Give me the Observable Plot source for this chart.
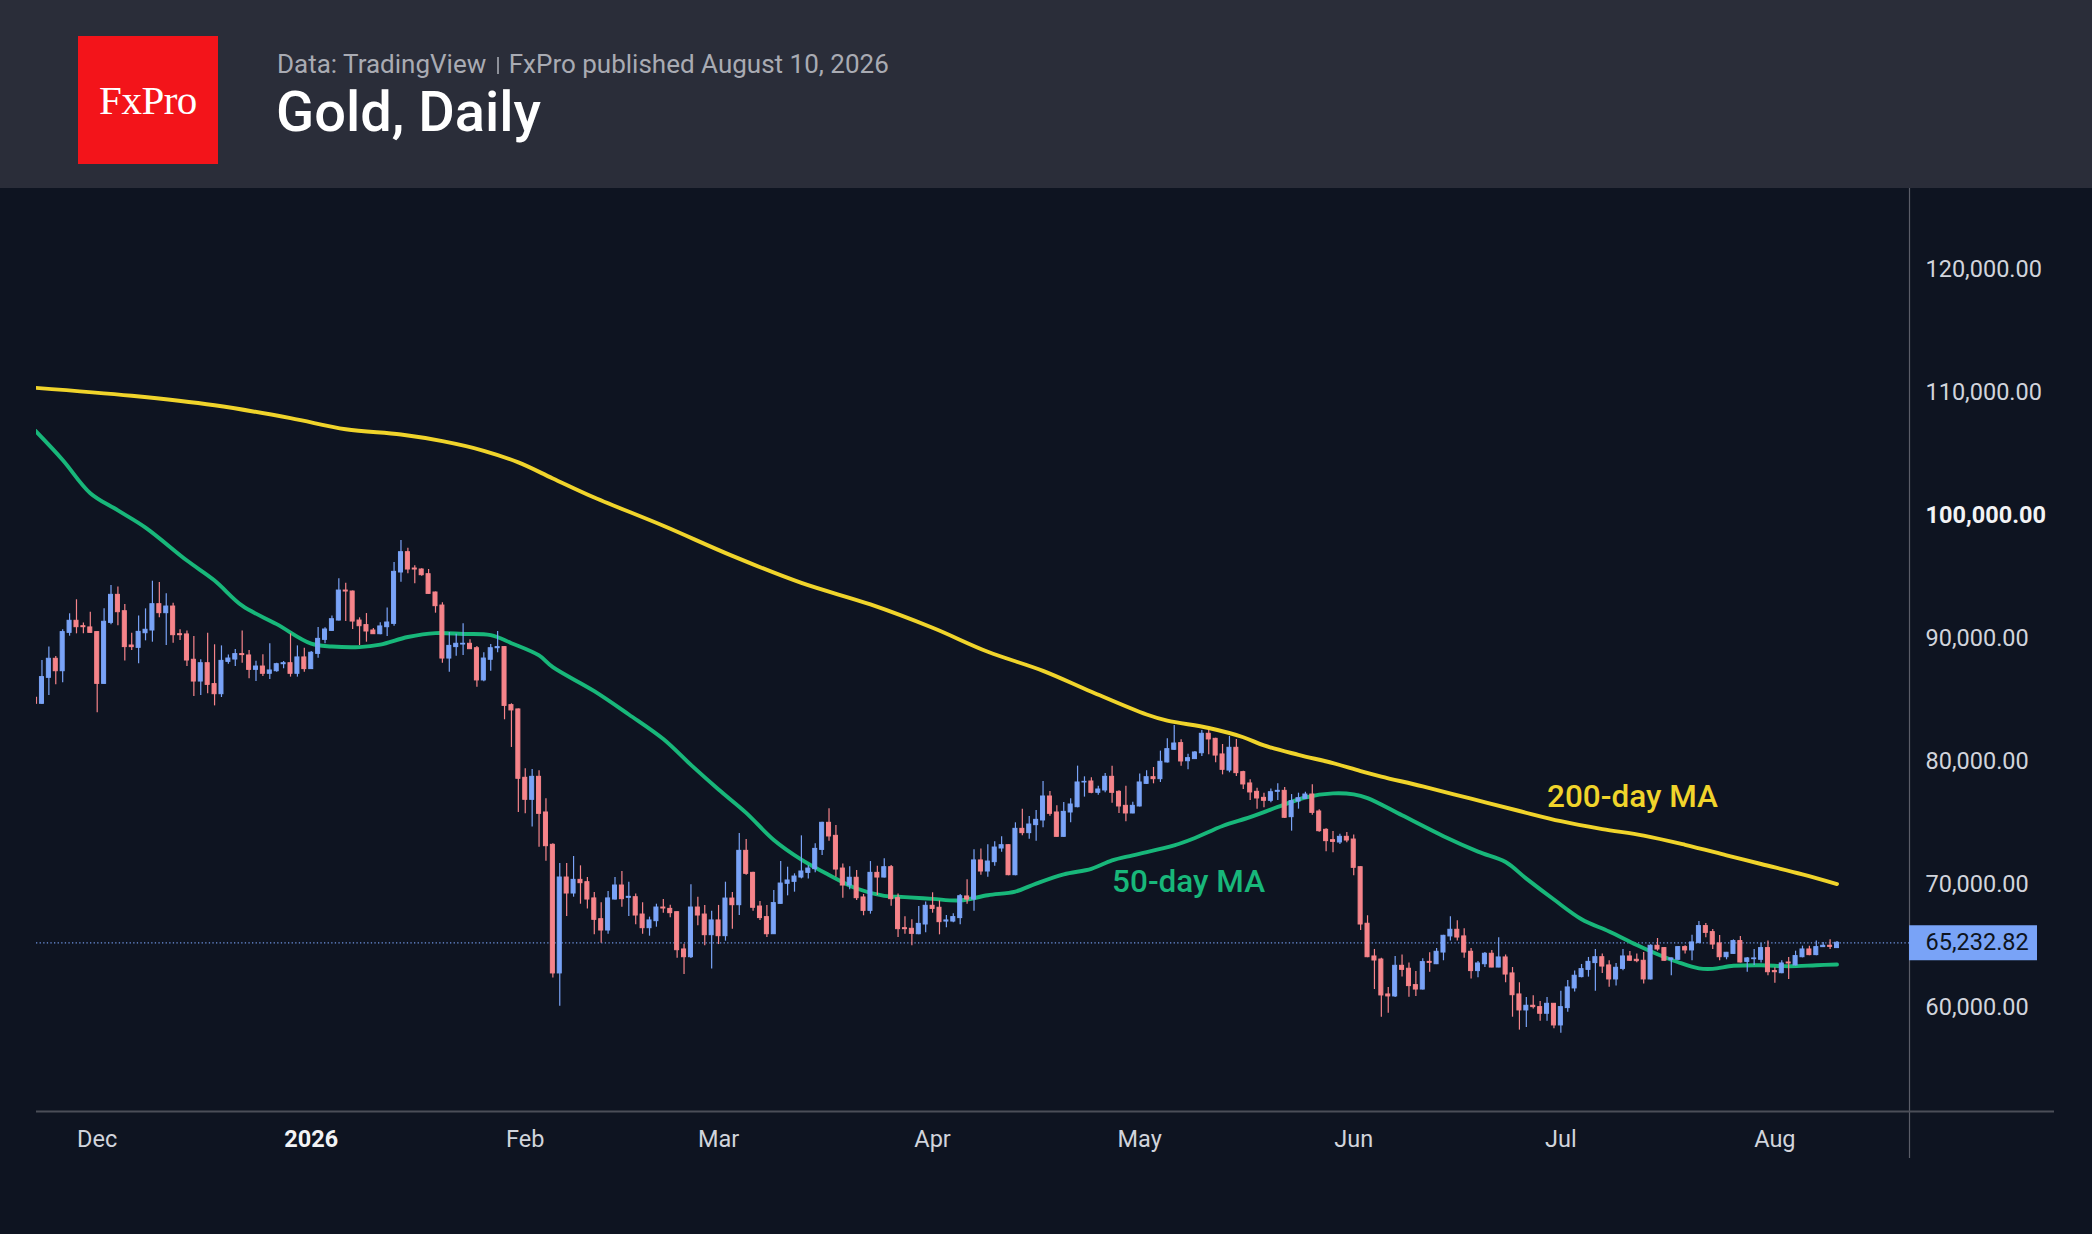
<!DOCTYPE html>
<html>
<head>
<meta charset="utf-8">
<script src="https://cdn.jsdelivr.net/npm/d3@7"></script>
<script src="https://cdn.jsdelivr.net/npm/@observablehq/plot@0.6"></script>
<style>
  html, body { margin: 0; padding: 0; background: #0e1421; }
  #wrap { width: 2092px; height: 1234px; position: relative; overflow: hidden; background: #0e1421; }
  #header { position: absolute; left: 0; top: 0; width: 2092px; height: 188px; background: #2a2d39; }
  #logo { position: absolute; left: 78px; top: 36px; width: 140px; height: 128px; background: #f3141a;
          display: flex; align-items: center; justify-content: center; color: #ffffff;
          font-family: "Liberation Serif", "DejaVu Serif", serif; font-size: 41px; letter-spacing: -0.5px; }
  #source { position: absolute; left: 277px; top: 51px; font-family: Roboto, "Noto Sans", sans-serif;
            font-size: 26px; line-height: 26px; color: #a9abb3; white-space: nowrap; }
  #source .sep { display: inline-block; width: 1.5px; height: 17px; background: #8d9099; margin: 0 10px 0 11px; vertical-align: -1px; }
  #title { position: absolute; left: 276px; top: 84px; font-family: Roboto, "Noto Sans", sans-serif;
           font-size: 56px; line-height: 56px; font-weight: 500; color: #ffffff; white-space: nowrap; }
  #chart { position: absolute; left: 0; top: 188px; }
</style>
</head>
<body>
<div id="wrap">
  <div id="header">
    <div id="logo">FxPro</div>
    <div id="source">Data: TradingView<span class="sep"></span>FxPro published August 10, 2026</div>
    <div id="title">Gold, Daily</div>
  </div>
  <div id="chart"></div>
</div>
<script>
// ---------------- DATA ----------------
const candleStart = "2025-11-22"; // first daily candle, one candle per calendar day
const opens = [85160,84670,86780,88330,87320,90440,91420,90980,90880,90500,86290,91250,93530,92200,89410,89220,90410,90630,92770,92040,
92580,90330,90310,88250,86480,87970,86270,85450,88080,88270,88710,88600,87430,87700,87110,87320,87890,87970,87110,88440,
87490,88730,89870,90600,91440,93880,93800,91440,91070,90630,90330,90900,91170,95350,97000,95670,95590,95210,93720,92660,
88350,89280,89490,89550,89190,86570,88250,89190,89280,84560,84210,78650,76860,78730,75830,73200,62740,70540,69240,70350,
70160,68840,67150,66230,68750,69890,68890,68940,67530,66420,66990,68100,67990,67720,64690,64060,68100,67530,65850,67050,
65770,68830,68290,72710,70920,68180,67320,65930,68400,70030,70190,70540,70920,71220,72790,74990,73930,71270,69890,70520,
68920,67830,70920,70540,71380,68860,66420,66370,65930,66720,68240,68080,66960,66960,67240,69000,68750,71930,71030,71790,
72900,73170,70730,74500,74150,74800,75180,77130,75830,73850,75830,76260,78270,78350,77430,77620,78730,77510,76370,75750,
76320,78160,78700,78540,79900,80930,81470,80000,80170,80650,82230,81820,80550,79240,81090,79110,78190,77510,77020,76780,
77510,77590,75450,76720,76940,77290,75910,74420,73580,73390,73850,73630,71380,66780,64120,63870,61030,60870,63360,63120,
61790,61430,63680,63490,64440,65750,66290,65750,64500,62930,63490,64340,63220,64040,62740,61030,59730,60110,60000,59460,
60270,58510,59920,61520,62440,63030,63580,64060,63390,62250,63110,64120,63850,63770,62250,64990,64800,63850,63850,64880,
64610,65200,66590,66100,65180,64060,64330,65370,63680,63900,63850,64800,62930,62760,63630,63390,64060,64690,64230,64880,
64990,64800];
const highs = [85210,88190,89280,88520,90690,91990,93130,91250,92120,90550,92390,94290,94160,92750,90410,91820,92390,94640,94540,93610,
92850,90690,90600,90140,88250,90410,89470,89380,88630,89090,90600,89000,88140,88650,89550,87970,88110,90360,89380,89190,
88920,90880,90850,91820,94830,94480,93850,91660,92010,90790,91260,92470,96160,97950,97330,95890,95650,95590,93760,92880,
90470,90330,91170,89870,89330,88820,89490,90550,89320,84670,84250,79380,79330,79220,76940,73280,71680,71680,72250,71490,
70540,69320,68480,69400,70540,71030,70160,69210,68480,67320,68370,68750,68290,67760,65120,69950,68940,68270,67800,68270,
70160,69320,74120,73630,70960,68590,68270,69490,71840,71380,70840,73930,71490,73280,75030,76130,74770,71650,71410,71110,
69160,71840,71460,72060,71520,69210,67340,67100,68180,68540,69300,68640,67450,67590,69160,70350,72790,72870,73200,73440,
73850,73210,74990,76100,75500,75990,78350,77540,76370,76640,76940,79600,78730,78650,77970,79000,79600,77590,77970,76670,
78970,79220,79490,80820,81820,82900,81740,80570,80790,82500,82500,81870,81360,82010,81770,79190,78490,77810,77400,77750,
78160,77860,77290,77400,77480,78080,76050,74500,74280,74070,74200,73990,71420,67430,64690,63980,61600,64120,64230,63580,
62900,63930,64420,64770,65840,67340,67020,66370,64770,63710,64440,64610,65640,64230,63220,61980,60780,60920,60460,60780,
60300,61300,62170,62930,63470,64040,64690,64330,63770,63550,64690,64520,64330,64440,65070,65580,64850,63990,64910,64990,
65850,66960,66800,66310,65830,64450,65470,65740,64040,64690,65200,65370,63200,63770,64040,64550,64960,64960,65370,65260,
65470,65340];
const lows = [84620,84620,85340,86210,86380,90170,90360,90360,90410,83940,86250,91090,91010,88160,89000,87920,89790,89680,91660,89410,
89600,89820,87700,85260,85340,85480,84500,85180,87890,87700,87970,86700,86480,86890,86650,87240,87510,86840,86840,87240,
87450,88380,89550,90560,91400,91360,90710,89410,89680,90300,90280,90140,90980,94560,95240,94430,95050,93580,92040,87970,
87240,88540,88600,89080,86020,86460,87320,88820,83370,81120,75830,75720,74640,73010,71870,62360,60080,67370,68940,68370,
67990,65880,65200,65930,68720,68130,67370,66690,65930,65770,66500,67640,67260,63980,62650,63960,66610,64990,63110,65090,
65360,66340,67450,70730,67800,67050,65660,65900,68360,69050,69350,70430,70430,70920,72330,73500,70570,68860,69540,68670,
67430,67560,69080,70500,68210,65660,65930,64990,65880,66040,67640,65880,66450,66860,66690,68370,67800,70730,70570,71460,
72600,70680,70680,73930,73660,73500,74580,75530,73810,73820,74990,76210,77080,77350,77240,77430,76590,75750,75070,75720,
76280,78110,78160,78270,79860,80870,79600,79300,80130,80380,80520,79870,78890,79060,78760,77700,76810,76100,76210,76620,
76810,75340,74310,76100,76890,75610,74230,72630,72550,73230,73360,70680,66230,64020,61430,59180,59510,60780,62440,60810,
60870,61400,62840,63460,63770,65370,65370,63980,62280,62380,63220,63200,63200,61980,59180,58130,58340,59840,58860,58860,
58240,57880,59590,61220,62380,62440,61300,62740,61620,61710,62950,63740,63600,61890,62210,64550,63740,62550,63810,64330,
63770,65170,65640,64690,63770,63850,64300,63580,62840,63390,63580,62550,61950,62710,62250,63350,64010,64170,64170,64840,
64690,64760];
const closes = [84670,86840,88330,87320,90500,91420,90900,90900,90440,86290,91340,93530,92120,89280,89280,90520,90690,92770,92040,92580,
90250,90250,88190,86480,87970,86210,85450,88160,88350,88710,88630,87430,87700,87110,87380,87890,87970,87110,88440,87490,
88820,89950,90710,91550,93880,93800,91360,90980,90550,90330,90960,91280,95400,97000,95590,95590,95130,93610,92610,88350,
89380,89550,89550,89110,86570,88350,89190,89280,84500,84130,78570,76860,78730,75720,73090,62740,70540,69240,70350,70080,
68750,67100,66230,68840,69890,68780,68970,67450,66420,67050,68100,68020,67640,64630,64060,68100,67450,65850,67050,65770,
68830,68290,72710,70840,68080,67240,65930,68460,70050,70300,70620,71030,71270,72870,74990,73880,71190,69890,70520,68860,
67830,70920,70540,71380,68780,66340,66340,65960,66770,68240,67990,66910,67050,67320,69020,68750,71930,71030,71840,72980,
73170,70730,74500,74150,74850,75230,77130,75720,73850,75880,76480,78270,78320,77430,77700,78730,77430,76320,75750,76370,
78270,78700,78540,79950,80980,81440,79980,80250,80710,82230,81770,80460,79300,81090,79030,78110,77460,76970,76780,77480,
77590,75400,76750,76990,77290,75800,74310,73500,73440,73850,73550,71330,66720,64060,63790,60950,60870,63360,63030,61710,
61430,63660,63600,64500,65800,66290,65660,64440,62930,63550,64340,63220,64040,62650,60970,59730,60110,60000,59460,60270,
58510,60000,61600,62550,63090,63680,64060,63300,62250,63200,64120,63770,63740,62250,64990,64690,63770,63960,64880,64610,
65260,66590,66040,65090,64060,64420,65370,63630,63960,63960,64800,62840,62840,63550,63550,64150,64690,64230,64880,64990,
64900,65232.82];

const ma50Dates = ["2025-11-22","2025-11-26","2025-11-30","2025-12-04","2025-12-08","2025-12-14","2025-12-18","2025-12-22","2025-12-27","2026-01-01",
"2026-01-04","2026-01-08","2026-01-11","2026-01-15","2026-01-19","2026-01-23","2026-01-27","2026-01-30","2026-02-03","2026-02-05",
"2026-02-11","2026-02-16","2026-02-21","2026-02-25","2026-03-01","2026-03-05","2026-03-09","2026-03-13","2026-03-17","2026-03-21",
"2026-03-25","2026-03-28","2026-04-01","2026-04-05","2026-04-09","2026-04-13","2026-04-16","2026-04-20","2026-04-24","2026-04-27",
"2026-04-30","2026-05-06","2026-05-09","2026-05-13","2026-05-17","2026-05-21","2026-05-25","2026-05-29","2026-06-01","2026-06-03",
"2026-06-08","2026-06-14","2026-06-19","2026-06-23","2026-06-26","2026-06-30","2026-07-04","2026-07-08","2026-07-12","2026-07-15",
"2026-07-18","2026-07-21","2026-07-23","2026-07-26","2026-07-30","2026-08-03","2026-08-07","2026-08-10"];
const ma50Values = [106900,104500,101800,100400,99000,96320,94700,92650,91150,89560,
89330,89280,89480,90100,90420,90350,90250,89600,88600,87650,
85700,83800,81800,79700,77700,75800,73600,72000,70750,69650,
69050,68950,68800,68680,69100,69400,70050,70800,71250,71930,
72350,73150,73750,74730,75450,76280,77050,77380,77300,77000,
75600,73900,72650,71800,70450,68750,67150,66150,65050,64300,
63650,63150,63110,63360,63410,63330,63410,63470];

const ma200Dates = ["2025-11-22","2025-12-06","2025-12-18","2025-12-29","2026-01-06","2026-01-14","2026-01-20","2026-01-26","2026-01-31","2026-02-05",
"2026-02-11","2026-02-21","2026-03-03","2026-03-13","2026-03-23","2026-04-01","2026-04-09","2026-04-17","2026-04-24","2026-05-02",
"2026-05-05","2026-05-11","2026-05-16","2026-05-19","2026-05-24","2026-05-29","2026-06-02","2026-06-05","2026-06-11","2026-06-18",
"2026-06-25","2026-07-01","2026-07-07","2026-07-13","2026-07-19","2026-07-25","2026-07-30","2026-08-05","2026-08-10"];
const ma200Values = [110370,109720,108950,107900,107000,106570,106030,105250,104300,103000,
101450,99150,96700,94500,92750,90850,88900,87350,85650,83800,
83300,82700,81950,81280,80520,79840,79190,78750,77950,76950,
75950,75120,74480,73950,73200,72350,71640,70800,70010];

const yTicks = [60000, 70000, 80000, 90000, 100000, 110000, 120000];
const monthTicks = ["2025-12-01","2026-01-01","2026-02-01","2026-03-01","2026-04-01","2026-05-01","2026-06-01","2026-07-01","2026-08-01"];
const maLabels = ["200-day MA", "50-day MA"];

// ---------------- BUILD ----------------
const parse = s => new Date(s + "T00:00:00Z");
const start = parse(candleStart);
const candles = opens.map((o, i) => ({
  date: d3.utcDay.offset(start, i), open: o, high: highs[i], low: lows[i], close: closes[i]
}));
const up = candles.filter(d => d.close >= d.open);
const down = candles.filter(d => d.close < d.open);
const ma50 = ma50Dates.map((s, i) => ({date: parse(s), value: ma50Values[i]}));
const ma200 = ma200Dates.map((s, i) => ({date: parse(s), value: ma200Values[i]}));
const last = closes[closes.length - 1];

const W = 2092, H = 1046, mL = 36, mR = 183, mT = 0, mB = 123;
const xDomain = [new Date("2025-11-22T05:00:00Z"), new Date("2026-08-20T12:00:00Z")];
const yDomain = [51511, 126579];

const UP = "#79a3f7", DOWN = "#f6848a", GREEN = "#18b77a", YELLOW = "#f0d42b";
const TXT = "#d1d4dc";
const FONT = "Roboto, 'Noto Sans', sans-serif";
const fmt = d3.format(",.2f");

const body = (data, color) => Plot.rect(data, {
  x1: d => d3.utcHour.offset(d.date, -7), x2: d => d3.utcHour.offset(d.date, 7),
  y1: "open", y2: "close", fill: color, stroke: color, strokeWidth: 1, clip: true
});
const wick = (data, color) => Plot.ruleX(data, {
  x: "date", y1: "low", y2: "high", stroke: color, strokeWidth: 1.2, clip: true
});

const months = monthTicks.map(parse);

const chart = Plot.plot({
  width: W, height: H,
  marginLeft: mL, marginRight: mR, marginTop: mT, marginBottom: mB,
  style: {background: "#0e1421", fontFamily: FONT, overflow: "visible"},
  x: {type: "utc", domain: xDomain},
  y: {domain: yDomain},
  marks: [
    // price scale separator and time axis line
    Plot.ruleX([xDomain[1]], {stroke: "#5a5d68", strokeWidth: 1.2, insetBottom: -47}),
    Plot.ruleY([yDomain[0]], {stroke: "#4b4e58", strokeWidth: 2, insetRight: -145}),
    // last price dotted line
    Plot.ruleY([last], {stroke: UP, strokeWidth: 1.2, strokeDasharray: "1.3,2.3", strokeOpacity: 0.9}),
    // moving averages
    Plot.line(ma200, {x: "date", y: "value", stroke: YELLOW, strokeWidth: 3.9, curve: "catmull-rom", clip: true}),
    Plot.line(ma50, {x: "date", y: "value", stroke: GREEN, strokeWidth: 3.9, curve: "catmull-rom", clip: true}),
    // candles
    wick(up, UP), wick(down, DOWN),
    body(up, UP), body(down, DOWN),
    // MA labels
    Plot.text([maLabels[0]], {x: () => parse("2026-06-29"), y: () => 77130, text: d => d,
      textAnchor: "start", lineAnchor: "middle", fill: YELLOW, fontSize: 31.5, fontWeight: 500, fontFamily: FONT}),
    Plot.text([maLabels[1]], {x: () => parse("2026-04-27"), y: () => 70220, text: d => d,
      textAnchor: "start", lineAnchor: "middle", fill: GREEN, fontSize: 31.5, fontWeight: 500, fontFamily: FONT}),
    // y axis on the right
    Plot.axisY({anchor: "right", ticks: yTicks.filter(t => t !== 100000), tickSize: 0, tickPadding: 16,
      tickFormat: fmt, fontSize: 23.5, fill: TXT, color: TXT, label: null, fontFamily: FONT}),
    Plot.axisY({anchor: "right", ticks: [100000], tickSize: 0, tickPadding: 16,
      tickFormat: fmt, fontSize: 23.5, fontWeight: "bold", fill: "#f2f3f5", color: "#f2f3f5", label: null, fontFamily: FONT}),
    // last price tag
    Plot.ruleY([last], {stroke: UP, strokeWidth: 35, insetLeft: W - mR - mL, insetRight: -128}),
    Plot.text([last], {y: d => d, frameAnchor: "right", dx: 16, text: d => fmt(d), textAnchor: "start",
      lineAnchor: "middle", fill: "#0d1320", fontSize: 23.5, fontFamily: FONT}),
    // x axis
    Plot.axisX({ticks: months.filter(d => d.getUTCMonth() !== 0), tickSize: 0, tickPadding: 19,
      tickFormat: d3.utcFormat("%b"), fontSize: 23.5, fill: TXT, color: TXT, label: null, fontFamily: FONT}),
    Plot.axisX({ticks: months.filter(d => d.getUTCMonth() === 0), tickSize: 0, tickPadding: 19,
      tickFormat: d3.utcFormat("%Y"), fontSize: 23.5, fontWeight: "bold", fill: "#f2f3f5", color: "#f2f3f5", label: null, fontFamily: FONT})
  ]
});
document.getElementById("chart").appendChild(chart);
</script>
</body>
</html>
